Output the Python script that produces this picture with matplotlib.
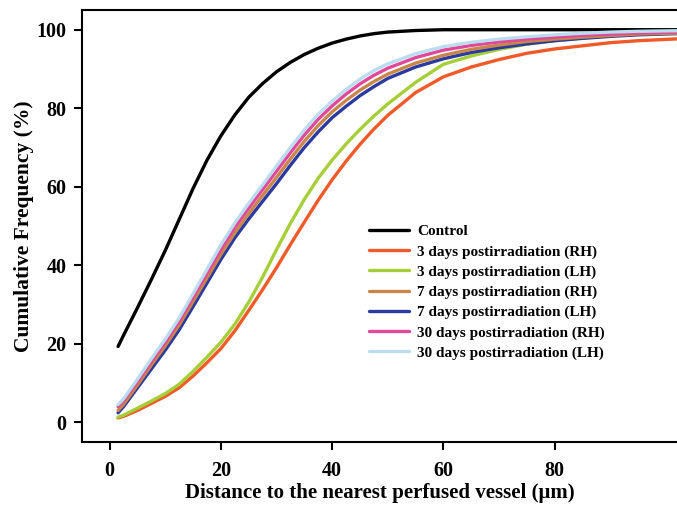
import matplotlib
matplotlib.use("Agg")
import matplotlib.pyplot as plt

plt.rcParams['font.family'] = ['Liberation Serif', 'DejaVu Serif']
plt.rcParams['font.weight'] = 'bold'

dist = [1.5, 2.5, 5, 7.5, 10, 12.5, 15, 17.5, 20, 22.5, 25, 27.5, 30, 32.5, 35, 37.5,
        40, 42.5, 45, 47.5, 50, 55, 60, 65, 70, 75, 80, 85, 90, 95, 104]

control = [19.3, 22.2, 29.2, 36.4, 43.8, 51.7, 59.6, 66.8, 73, 78.3, 82.8, 86.3, 89.3, 91.7, 93.7, 95.3,
           96.6, 97.6, 98.4, 99, 99.4, 99.8, 100, 100, 100, 100, 100, 100, 100, 100, 100]
d3_rh = [1.1, 1.5, 3, 4.8, 6.6, 8.8, 11.8, 15.2, 18.8, 23.3, 28.5, 33.8, 39.4, 45.3, 51, 56.6,
         61.8, 66.5, 70.8, 74.7, 78.2, 84, 88, 90.5, 92.4, 94, 95.1, 95.9, 96.7, 97.2, 97.8]
d3_lh = [1.3, 1.8, 3.6, 5.4, 7.3, 9.7, 13, 16.6, 20.4, 25, 30.6, 37, 44, 50.7, 56.8, 62.2,
         66.8, 70.9, 74.6, 78, 81.1, 86.6, 91.2, 93.3, 95, 96.3, 97.2, 97.9, 98.5, 98.9, 99.2]
d7_rh = [3, 4.6, 9.5, 14.6, 19.5, 24.8, 30.8, 36.8, 42.8, 48.3, 53.2, 57.8, 62.4, 67.1, 71.6, 75.6,
         79.1, 82, 84.6, 86.8, 88.7, 91.5, 93.5, 95, 96.1, 97, 97.6, 98.1, 98.5, 98.9, 99.2]
d7_lh = [2.4, 4, 8.8, 13.6, 18.4, 23.6, 29.5, 35.5, 41.5, 47, 51.8, 56.3, 60.8, 65.5, 70, 74,
         77.6, 80.5, 83.2, 85.5, 87.6, 90.5, 92.6, 94.2, 95.4, 96.4, 97.2, 97.8, 98.3, 98.7, 99.1]
d30_rh = [4, 5.5, 10.4, 15.5, 20.5, 25.8, 31.9, 38, 44.1, 49.7, 54.6, 59.3, 64, 68.7, 73.2, 77.2,
          80.6, 83.6, 86.2, 88.4, 90.2, 92.9, 94.8, 96, 96.9, 97.6, 98.1, 98.6, 98.9, 99.2, 99.5]
d30_lh = [4.5, 6, 11, 16.2, 21.2, 26.6, 32.8, 39, 45.2, 50.8, 55.8, 60.5, 65.3, 70, 74.5, 78.5,
          81.8, 84.8, 87.4, 89.6, 91.3, 93.9, 95.7, 96.8, 97.6, 98.2, 98.7, 99.1, 99.4, 99.6, 99.8]

labels = ['Control',
          '3 days postirradiation (RH)', '3 days postirradiation (LH)',
          '7 days postirradiation (RH)', '7 days postirradiation (LH)',
          '30 days postirradiation (RH)', '30 days postirradiation (LH)']
colors = ['#000000', '#f05a28', '#a6ce39', '#c8864a', '#2b3a9e', '#e0489a', '#bcdcf0']
series = [control, d3_rh, d3_lh, d7_rh, d7_lh, d30_rh, d30_lh]

fig = plt.figure(figsize=(6.77, 5.05), dpi=100)
ax = fig.add_axes([0.121, 0.125, 0.879, 0.855])

# blue under the brown, light colours on top
order = [0, 1, 2, 4, 3, 5, 6]
lines = {}
for i in order:
    ln, = ax.plot(dist, series[i], color=colors[i], lw=2.4, label=labels[i],
                  solid_joinstyle='round', solid_capstyle='round')
    lines[i] = ln

ax.set_xlim(-5, 102)
ax.set_ylim(-5, 105)
ax.set_xticks([0, 20, 40, 60, 80])
ax.set_yticks([0, 20, 40, 60, 80, 100])
ax.tick_params(direction='out', length=6, width=1.5, labelsize=14.5)
ax.tick_params(axis='x', pad=8)
ax.tick_params(axis='y', pad=5)
for lab in ax.get_xticklabels() + ax.get_yticklabels():
    lab.set_fontweight('bold')
ax.spines['right'].set_visible(False)
for s in ['left', 'bottom', 'top']:
    ax.spines[s].set_linewidth(1.5)

ax.set_xlabel('Distance to the nearest perfused vessel (\u03bcm)', fontsize=15,
              fontweight='bold', labelpad=1.5)
ax.set_ylabel('Cumulative Frequency (%)', fontsize=15.5, fontweight='bold', labelpad=2)

ax.legend([lines[i] for i in range(7)], labels, loc='upper left',
          bbox_to_anchor=(0.46, 0.535), frameon=False,
          handlelength=2.6, labelspacing=0.42, handletextpad=0.5,
          prop={'weight': 'bold', 'size': 11})

fig.savefig('out.png', dpi=100)
